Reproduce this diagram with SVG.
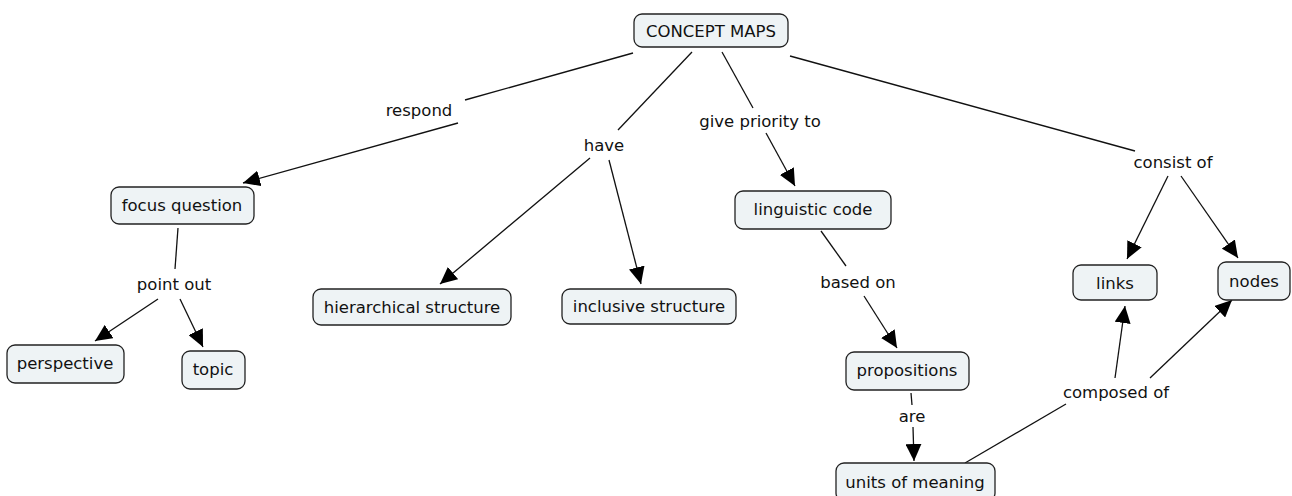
<svg xmlns="http://www.w3.org/2000/svg" width="1292" height="496" viewBox="0 0 1292 496">
<style>
.n rect{fill:#eef3f5;stroke:#222;stroke-width:1.3}
text{font-family:"DejaVu Sans",Verdana,sans-serif;font-size:16.5px;fill:#111;text-anchor:middle;dominant-baseline:central}
.c line{stroke:#111;stroke-width:1.3}
.a{marker-end:url(#ah)}
</style>
<defs>
<marker id="ah" markerUnits="userSpaceOnUse" markerWidth="18" markerHeight="16" refX="17" refY="8" orient="auto">
<path d="M0,0 L17,8 L0,16 Z" fill="#000"/>
</marker>
</defs>
<rect width="1292" height="496" fill="#fff"/>
<g class="c">
<line x1="633" y1="53" x2="465" y2="100"/>
<line class="a" x1="458" y1="123" x2="243" y2="183"/>
<line x1="692" y1="52" x2="618" y2="130"/>
<line class="a" x1="590" y1="158" x2="440" y2="284"/>
<line class="a" x1="609" y1="160" x2="641" y2="284"/>
<line x1="722" y1="52" x2="753" y2="108"/>
<line class="a" x1="766" y1="133" x2="795" y2="186"/>
<line x1="790" y1="56" x2="1135" y2="151"/>
<line class="a" x1="1168" y1="176" x2="1127" y2="259"/>
<line class="a" x1="1181" y1="176" x2="1238" y2="258"/>
<line x1="178" y1="228" x2="175" y2="269"/>
<line class="a" x1="158" y1="299" x2="95" y2="341"/>
<line class="a" x1="180" y1="299" x2="203" y2="347"/>
<line x1="821" y1="231" x2="846" y2="266"/>
<line class="a" x1="864" y1="296" x2="897" y2="348"/>
<line x1="911" y1="393" x2="912" y2="405"/>
<line class="a" x1="913" y1="427" x2="914" y2="461"/>
<line x1="965" y1="463" x2="1066" y2="404"/>
<line class="a" x1="1115" y1="378" x2="1125" y2="306"/>
<line class="a" x1="1150" y1="378" x2="1232" y2="300"/>
</g>
<g id="concept-maps" class="n"><rect x="634" y="14" width="154" height="33" rx="8"/><text x="711" y="31">CONCEPT MAPS</text></g>
<g id="focus-question" class="n"><rect x="111" y="187" width="143" height="37" rx="8"/><text x="182" y="205">focus question</text></g>
<g id="perspective" class="n"><rect x="7" y="345" width="117" height="38" rx="8"/><text x="65" y="363">perspective</text></g>
<g id="topic" class="n"><rect x="182" y="351" width="63" height="38" rx="8"/><text x="213" y="369">topic</text></g>
<g id="hierarchical-structure" class="n"><rect x="313" y="289" width="198" height="36" rx="8"/><text x="412" y="307">hierarchical structure</text></g>
<g id="inclusive-structure" class="n"><rect x="562" y="289" width="174" height="35" rx="8"/><text x="649" y="306">inclusive structure</text></g>
<g id="linguistic-code" class="n"><rect x="735" y="191" width="156" height="38" rx="8"/><text x="813" y="209">linguistic code</text></g>
<g id="propositions" class="n"><rect x="846" y="352" width="123" height="38" rx="8"/><text x="907" y="370">propositions</text></g>
<g id="units-of-meaning" class="n"><rect x="836" y="463" width="159" height="38" rx="8"/><text x="915" y="482">units of meaning</text></g>
<g id="links" class="n"><rect x="1073" y="265" width="84" height="35" rx="8"/><text x="1115" y="283">links</text></g>
<g id="nodes" class="n"><rect x="1218" y="262" width="72" height="38" rx="8"/><text x="1254" y="281">nodes</text></g>
<g id="labels">
<text x="419" y="110">respond</text>
<text x="604" y="145">have</text>
<text x="760" y="121">give priority to</text>
<text x="1173" y="162">consist of</text>
<text x="174" y="284">point out</text>
<text x="858" y="282">based on</text>
<text x="912" y="416">are</text>
<text x="1116" y="392">composed of</text>
</g>
</svg>
